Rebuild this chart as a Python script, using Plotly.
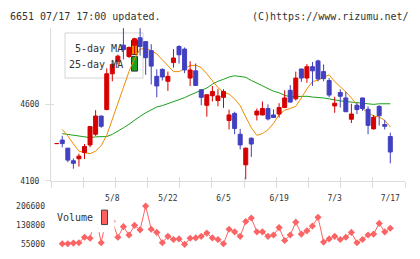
import plotly.graph_objects as go

# ---------------- data ----------------
dates = ["4/21", "4/22", "4/23", "4/24", "4/25", "4/28", "4/30", "5/1", "5/2", "5/7", "5/8",
         "5/9", "5/12", "5/13", "5/14", "5/15", "5/16", "5/19", "5/20", "5/21", "5/22",
         "5/23", "5/26", "5/27", "5/28", "5/29", "5/30", "6/2", "6/3", "6/4", "6/5",
         "6/6", "6/9", "6/10", "6/11", "6/12", "6/13", "6/16", "6/17", "6/18", "6/19",
         "6/20", "6/23", "6/24", "6/25", "6/26", "6/27", "6/30", "7/1", "7/2", "7/3",
         "7/4", "7/7", "7/8", "7/9", "7/10", "7/11", "7/14", "7/15", "7/16", "7/17"]

opens = [4344, 4367, 4314, 4232, 4245, 4285, 4335, 4405, 4524, 4566, 4800,
         4882, 4987, 4913, 4986, 5035, 5010, 4951, 4783, 4829, 4751,
         4873, 4978, 4961, 4772, 4819, 4695, 4594, 4657, 4625, 4646,
         4495, 4541, 4405, 4205, 4379, 4531, 4531, 4573, 4531, 4537,
         4579, 4692, 4636, 4831, 4772, 4846, 4884, 4814, 4756, 4590,
         4678, 4642, 4503, 4594, 4642, 4568, 4440, 4587, 4468, 4390]
highs = [4348, 4394, 4316, 4247, 4278, 4341, 4457, 4562, 4526, 4835, 4867,
         4925, 5098, 4978, 5035, 5098, 5012, 4993, 4829, 4835, 4814,
         4961, 4987, 4972, 4882, 4867, 4699, 4667, 4720, 4699, 4699,
         4566, 4552, 4440, 4318, 4384, 4573, 4619, 4600, 4568, 4608,
         4692, 4726, 4814, 4833, 4863, 4877, 4892, 4861, 4772, 4650,
         4699, 4682, 4604, 4608, 4644, 4587, 4531, 4594, 4499, 4415]
lows = [4343, 4320, 4222, 4180, 4194, 4243, 4320, 4394, 4447, 4562, 4751,
        4861, 4894, 4903, 4928, 4919, 4793, 4730, 4646, 4756, 4688,
        4840, 4867, 4804, 4720, 4720, 4594, 4520, 4619, 4587, 4577,
        4436, 4405, 4306, 4110, 4257, 4495, 4529, 4495, 4512, 4514,
        4577, 4613, 4625, 4747, 4741, 4720, 4751, 4751, 4646, 4545,
        4579, 4550, 4478, 4537, 4558, 4405, 4436, 4461, 4436, 4215]
closes = [4347, 4344, 4236, 4215, 4262, 4325, 4455, 4524, 4457, 4800, 4861,
          4915, 4958, 4972, 5029, 4978, 4905, 4850, 4720, 4779, 4783,
          4903, 4924, 4825, 4825, 4724, 4646, 4663, 4684, 4655, 4684,
          4531, 4442, 4335, 4314, 4341, 4556, 4573, 4505, 4514, 4579,
          4642, 4615, 4772, 4772, 4846, 4819, 4766, 4768, 4661, 4608,
          4653, 4552, 4537, 4566, 4573, 4463, 4516, 4526, 4457, 4289]

ma5 = [None, 4436, 4394, 4342, 4295, 4285, 4278, 4295, 4331, 4398, 4505,
       4604, 4720, 4814, 4898, 4961, 4966, 4951, 4930, 4892, 4848,
       4814, 4814, 4835, 4854, 4856, 4840, 4800, 4756, 4709, 4680,
       4667, 4636, 4592, 4518, 4447, 4398, 4409, 4434, 4476, 4533,
       4562, 4573, 4587, 4642, 4701, 4749, 4758, 4777, 4793, 4749,
       4718, 4682, 4642, 4598, 4571, 4545, 4524, 4518, 4495, 4453]
ma25 = [None, 4409, 4404, 4398, 4392, 4388, 4383, 4388, 4388, 4390, 4404,
        4423, 4447, 4470, 4499, 4522, 4545, 4566, 4583, 4592, 4604,
        4617, 4627, 4644, 4661, 4678, 4692, 4707, 4732, 4751, 4764,
        4779, 4787, 4783, 4777, 4756, 4741, 4722, 4703, 4686, 4676,
        4659, 4650, 4650, 4650, 4653, 4648, 4646, 4642, 4636, 4627,
        4623, 4619, 4615, 4611, 4604, 4600, 4600, 4604, 4604, 4604]
volume = [None, 57500, 57500, 60100, 61400, 83000, 79200, 170000, 61400, 166000, 146000,
          83000, 125000, 91900, 130100, 112300, 206500, 114800, 102100, 61400, 86800,
          74100, 76600, 55000, 79200, 80400, 86800, 99500, 80400, 74100, 57500,
          114800, 104600, 86800, 145400, 159400, 104600, 104600, 86800, 91900, 121200,
          70300, 91900, 142800, 95700, 108500, 127600, 161900, 63900, 76600, 86800,
          74100, 83000, 102100, 61400, 74100, 91900, 95700, 137700, 104600, 118600]

price_ticks = [4100, 4600]
price_range = [4100, 5100]
volume_ticks = [55000, 130800, 206600]
label_dates = ["5/8", "5/22", "6/5", "6/19", "7/3", "7/17"]
title_left = "6651 07/17 17:00 updated."
title_right = "(C)https://www.rizumu.net/"

# ---------------- styles / geometry ----------------
W, H = 420, 259
ML, MR = 51, 15
PW = W - ML - MR
STEP = 5.56            # px per bar
FIRST_PX = 56.7        # px of first bar
XMIN = (ML - FIRST_PX) / STEP
XMAX = XMIN + PW / STEP
NDIV = 11
divs = [XMIN + k * (XMAX - XMIN) / NDIV for k in range(NDIV + 1)]

RED, BLUE = "#d60000", "#4040c0"
ORANGE, GREEN = "#f08c00", "#1ca01c"
VOLC = "#fb6464"
AXC = "#dcdcdc"
TXT = "#333333"
MONO = "DejaVu Sans Mono"
HW = 0.36


def pxx(px):
    return (px - ML) / PW


def pxy(py):
    return (H - py) / H


x = list(range(len(dates)))

fig = go.Figure()

# moving averages (drawn first -> candles on top)
fig.add_trace(go.Scatter(x=x, y=ma25, mode="lines", line=dict(color=GREEN, width=1),
                         xaxis="x", yaxis="y", hoverinfo="skip"))
fig.add_trace(go.Scatter(x=x, y=ma5, mode="lines", line=dict(color=ORANGE, width=1),
                         xaxis="x", yaxis="y", hoverinfo="skip"))

# candles
for up, col in ((True, RED), (False, BLUE)):
    idx = [i for i in x if (closes[i] >= opens[i]) == up]
    wx, wy, bx, by = [], [], [], []
    for i in idx:
        wx += [i, i, None]
        wy += [lows[i], highs[i], None]
        lo, hi = min(opens[i], closes[i]), max(opens[i], closes[i])
        bx += [i - HW, i + HW, i + HW, i - HW, i - HW, None]
        by += [lo, lo, hi, hi, lo, None]
    fig.add_trace(go.Scatter(x=wx, y=wy, mode="lines", line=dict(color=col, width=1),
                             xaxis="x", yaxis="y", hoverinfo="skip"))
    fig.add_trace(go.Scatter(x=bx, y=by, mode="lines", fill="toself", fillcolor=col,
                             line=dict(color=col, width=1),
                             xaxis="x", yaxis="y", hoverinfo="skip"))

# volume
fig.add_trace(go.Scatter(x=x, y=volume, mode="lines+markers",
                         line=dict(color=VOLC, width=1),
                         marker=dict(symbol="diamond", size=5.5, color=VOLC),
                         cliponaxis=False, xaxis="x2", yaxis="y2", hoverinfo="skip"))

# empty helper traces so the overlay tick axes are drawn
fig.add_trace(go.Scatter(x=[None], y=[None], xaxis="x3", yaxis="y", hoverinfo="skip"))
fig.add_trace(go.Scatter(x=[None], y=[None], xaxis="x4", yaxis="y", hoverinfo="skip"))
fig.add_trace(go.Scatter(x=[None], y=[None], xaxis="x", yaxis="y3", hoverinfo="skip"))

label_pos = [dates.index(d) for d in label_dates]

fig.update_layout(
    width=W, height=H,
    margin=dict(l=ML, r=MR, t=0, b=0),
    paper_bgcolor="white", plot_bgcolor="white",
    showlegend=False,
    font=dict(family=MONO, size=8, color=TXT),
    xaxis=dict(domain=[0, 1], anchor="y", range=[XMIN, XMAX],
               tickmode="array", tickvals=divs, ticktext=[""] * len(divs),
               ticks="outside", ticklen=6, tickwidth=1, tickcolor=AXC,
               showline=True, linecolor=AXC, linewidth=1,
               showgrid=False, zeroline=False),
    xaxis3=dict(overlaying="x", anchor="y", range=[XMIN, XMAX],
                tickmode="array", tickvals=divs, showticklabels=False,
                ticks="inside", ticklen=4, tickwidth=1, tickcolor=AXC,
                showline=False, showgrid=False, zeroline=False),
    xaxis4=dict(overlaying="x", anchor="y", range=[XMIN, XMAX],
                tickmode="array", tickvals=label_pos, ticktext=label_dates,
                ticks="", showline=False, showgrid=False, zeroline=False,
                ticklabelstandoff=11, tickfont=dict(family=MONO, size=8, color=TXT)),
    yaxis=dict(domain=[pxy(183.3), pxy(24.7)], anchor="x", range=price_range,
               tickmode="array", tickvals=price_ticks,
               ticks="outside", ticklen=5, tickwidth=1, tickcolor=AXC,
               showline=True, linecolor=AXC, linewidth=1,
               showgrid=False, zeroline=False, ticklabelstandoff=4,
               tickfont=dict(family=MONO, size=8, color=TXT)),
    yaxis3=dict(overlaying="y", anchor="x", range=price_range,
                tickmode="array", tickvals=price_ticks, showticklabels=False,
                ticks="inside", ticklen=3, tickwidth=1, tickcolor=AXC,
                showline=False, showgrid=False, zeroline=False),
    xaxis2=dict(domain=[0, 1], anchor="y2", range=[XMIN, XMAX], visible=False),
    yaxis2=dict(domain=[pxy(249), pxy(209.3)], anchor="x2",
                range=[volume_ticks[0], volume_ticks[-1]],
                tickmode="array", tickvals=volume_ticks,
                ticktext=[str(v) for v in volume_ticks], ticks="",
                showline=False, showgrid=False, zeroline=False, ticklabelstandoff=5,
                tickfont=dict(family=MONO, size=8, color=TXT)),
)

shapes = [
    # price legend box (under the candles)
    dict(type="rect", xref="paper", yref="paper", layer="below",
         x0=pxx(65), x1=pxx(143), y0=pxy(76.7), y1=pxy(30),
         fillcolor="white", line=dict(color="#d4d4d4", width=1)),
    dict(type="rect", xref="paper", yref="paper", layer="below",
         x0=pxx(131.5), x1=pxx(137.5), y0=pxy(52.5), y1=pxy(37.5),
         fillcolor=ORANGE, line=dict(color="#333333", width=1)),
    dict(type="rect", xref="paper", yref="paper", layer="below",
         x0=pxx(131.5), x1=pxx(137.5), y0=pxy(69.5), y1=pxy(54.5),
         fillcolor=GREEN, line=dict(color="#333333", width=1)),
    # volume legend box (over the volume line)
    dict(type="rect", xref="paper", yref="paper", layer="above",
         x0=pxx(55), x1=pxx(114.5), y0=pxy(236.5), y1=pxy(205),
         fillcolor="white", line=dict(width=0)),
    dict(type="rect", xref="paper", yref="paper", layer="above",
         x0=pxx(101.5), x1=pxx(107.5), y0=pxy(228.5), y1=pxy(213.5),
         fillcolor="#ff6060", line=dict(color="#444444", width=1)),
]
fig.update_layout(shapes=shapes)

ann_font = dict(family=MONO, size=10, color=TXT)
annotations = [
    dict(text=title_left, xref="paper", yref="paper", x=pxx(7.5), y=pxy(13),
         xanchor="left", yanchor="middle", showarrow=False, font=ann_font),
    dict(text=title_right, xref="paper", yref="paper", x=pxx(410.5), y=pxy(13),
         xanchor="right", yanchor="middle", showarrow=False, font=ann_font),
    dict(text="5-day MA", xref="paper", yref="paper", x=pxx(125), y=pxy(46),
         xanchor="right", yanchor="middle", showarrow=False, font=ann_font),
    dict(text="25-day MA", xref="paper", yref="paper", x=pxx(125), y=pxy(62.5),
         xanchor="right", yanchor="middle", showarrow=False, font=ann_font),
    dict(text="Volume", xref="paper", yref="paper", x=pxx(94.5), y=pxy(221.5),
         xanchor="right", yanchor="middle", showarrow=False, font=ann_font),
]
fig.update_layout(annotations=annotations)

fig.write_html("out.html")
